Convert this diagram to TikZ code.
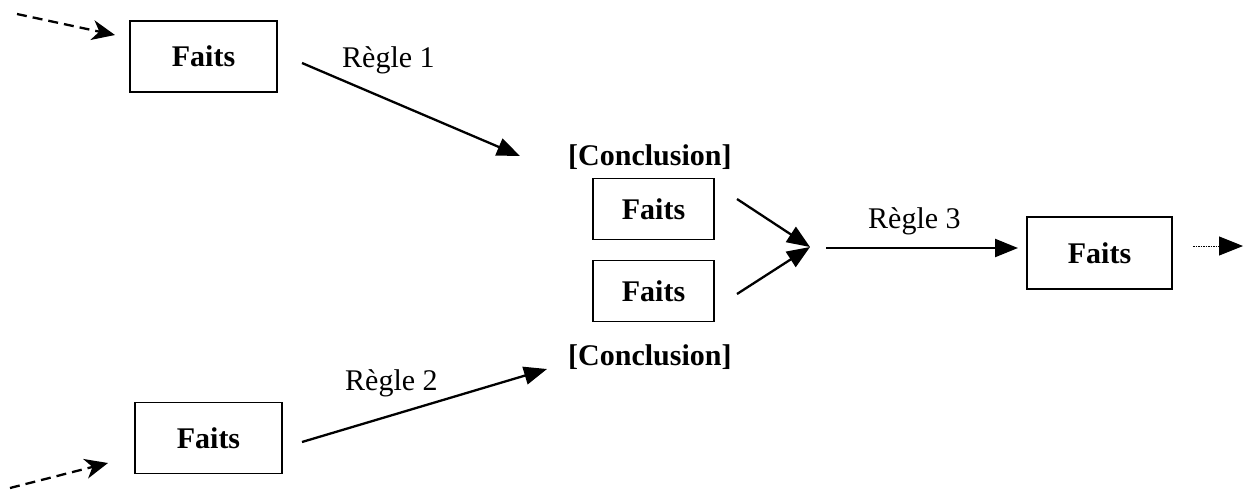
\documentclass[tikz,border=0pt]{standalone}
\usepackage{fontspec}
\setmainfont{Liberation Serif}
\usetikzlibrary{arrows.meta}
\begin{document}
\begin{tikzpicture}[x=1pt,y=-1pt,
  fait/.style={draw,line width=1.8pt,minimum width=147pt,minimum height=71pt,
    inner sep=0pt,font=\fontsize{30}{36}\selectfont\bfseries},
  fait2/.style={fait,minimum width=121pt,minimum height=61pt},
  concl/.style={anchor=base west,inner sep=0pt,font=\fontsize{30}{36}\selectfont\bfseries},
  regle/.style={anchor=base west,inner sep=0pt,font=\fontsize{30}{36}\selectfont},
  flow/.style={line width=2.3pt,-{Triangle[length=23pt,width=18pt]}},
  entry/.style={line width=2.3pt,dash pattern=on 10pt off 6pt,-{Stealth[length=23pt,width=20pt,inset=7pt]}},
  onward/.style={line width=1pt,dash pattern=on 1.5pt off 1pt,-{Triangle[length=24pt,width=19pt]}}]
\useasboundingbox (0,0) rectangle (1247,491);

% fact boxes
\node[fait]  (f1) at (203.5,56.5) {Faits};
\node[fait]  (f2) at (208.5,438) {Faits};
\node[fait2] (c1) at (653.5,209) {Faits};
\node[fait2] (c2) at (653.5,291) {Faits};
\node[fait,minimum width=145pt,minimum height=72pt] (f3) at (1099.5,253) {Faits};

% labels
\node[concl] (k1) at (568,165) {[Conclusion]};
\node[concl] (k2) at (568,365) {[Conclusion]};
\node[regle] (r1) at (342,67) {Règle 1};
\node[regle] (r2) at (345,390) {Règle 2};
\node[regle] (r3) at (868,228) {Règle 3};

% connector end points
\coordinate (in1) at (17,14);
\coordinate (in1t) at (115,35);
\coordinate (in2) at (10,488);
\coordinate (in2t) at (108,463);
\coordinate (a1s) at (302,63);
\coordinate (a1t) at (520,156);
\coordinate (a2s) at (302,442);
\coordinate (a2t) at (547,369);
\coordinate (m1) at (737,199);
\coordinate (m2) at (737,294);
\coordinate (mt) at (810,247);
\coordinate (a3s) at (826,248);
\coordinate (a3t) at (1018,248);
\coordinate (o1) at (1193,246);
\coordinate (o1t) at (1243,246);

% connectors
\draw[entry] (in1) -- (in1t);
\draw[entry] (in2) -- (in2t);
\draw[flow] (a1s) -- (a1t);
\draw[flow] (a2s) -- (a2t);
\draw[flow] (m1) -- (mt);
\draw[flow] (m2) -- (mt);
\draw[flow] (a3s) -- (a3t);
\draw[onward] (o1) -- (o1t);
\end{tikzpicture}
\end{document}
